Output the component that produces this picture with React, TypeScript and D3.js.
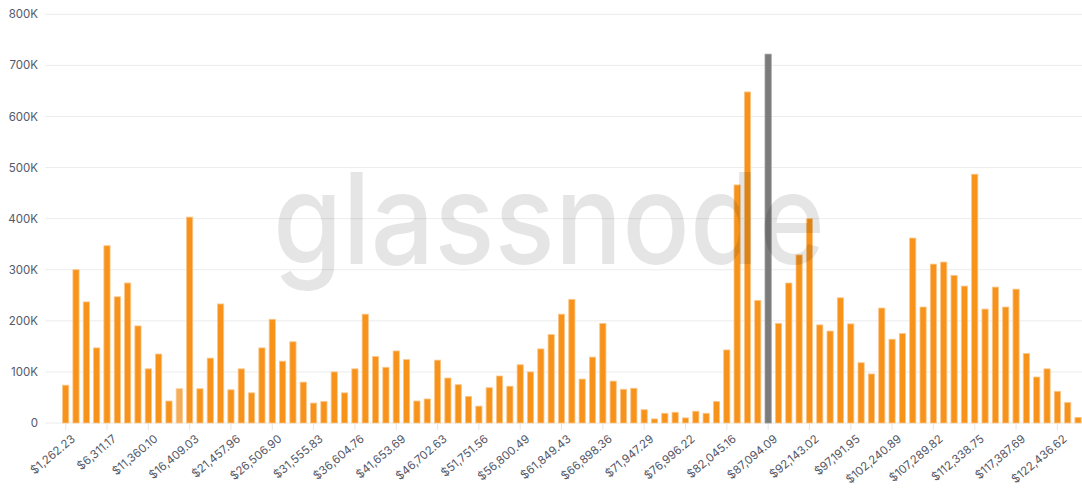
import { useEffect, useRef } from "react";
import * as d3 from "d3";

// supply per price bucket, in thousands
const supplyK = [
  74, 300, 237, 147, 347, 247, 274, 190, 106, 135,
  43, 67, 403, 67, 127, 233, 65, 106, 59, 147,
  203, 121, 159, 80, 39, 42, 100, 59, 106, 213,
  130, 109, 141, 124, 43, 47, 123, 88, 75, 52,
  33, 69, 92, 72, 114, 100, 145, 173, 213, 242,
  86, 129, 195, 82, 66, 68, 26, 8, 19, 21,
  10, 23, 19, 42, 143, 466, 648, 240, 722, 195,
  274, 329, 400, 192, 180, 245, 194, 118, 96, 225,
  164, 175, 362, 227, 311, 315, 289, 268, 487, 223,
  266, 227, 262, 136, 90, 106, 62, 40, 11,
];

// every 4th bucket gets a label
const tickLabels = [
  "$1,262.23", "$6,311.17", "$11,360.10", "$16,409.03", "$21,457.96",
  "$26,506.90", "$31,555.83", "$36,604.76", "$41,653.69", "$46,702.63",
  "$51,751.56", "$56,800.49", "$61,849.43", "$66,898.36", "$71,947.29",
  "$76,996.22", "$82,045.16", "$87,094.09", "$92,143.02", "$97,191.95",
  "$102,240.89", "$107,289.82", "$112,338.75", "$117,387.69", "$122,436.62",
];

const yTicks = [0, 100, 200, 300, 400, 500, 600, 700, 800];
const yTickLabels = ["0", "100K", "200K", "300K", "400K", "500K", "600K", "700K", "800K"];

const currentBucket = 68; // grey bar (current price)
const fadedBucket = 11;

const W = 1082;
const H = 492;

export default function App() {
  const ref = useRef<SVGSVGElement | null>(null);

  useEffect(() => {
    const svg = d3.select(ref.current);
    svg.selectAll("*").remove();

    const idx = supplyK.map((_, i) => i);
    const x = d3.scaleBand<number>()
      .domain(idx)
      .range([60.5, 1083.2])
      .paddingInner(0.4)
      .paddingOuter(0.2);
    const y = d3.scaleLinear().domain([0, 800]).range([423, 14.3]);
    const cx = (i: number) => x(i)! + x.bandwidth() / 2;

    // grid
    svg.append("g")
      .selectAll("line")
      .data(yTicks)
      .join("line")
      .attr("x1", 45)
      .attr("x2", W)
      .attr("y1", d => y(d))
      .attr("y2", d => y(d))
      .attr("stroke", "#ececec")
      .attr("stroke-width", 1);

    svg.append("g")
      .selectAll("text")
      .data(yTicks)
      .join("text")
      .attr("x", 38)
      .attr("y", d => y(d))
      .attr("dy", "0.35em")
      .attr("text-anchor", "end")
      .attr("font-family", "Inter, sans-serif")
      .attr("font-size", 11.5)
      .attr("fill", "#545868")
      .text((d, i) => yTickLabels[i]);

    // x ticks + labels
    const tickIdx = tickLabels.map((_, i) => i * 4);
    const xt = svg.append("g");
    xt.selectAll("line")
      .data(tickIdx)
      .join("line")
      .attr("x1", d => cx(d))
      .attr("x2", d => cx(d))
      .attr("y1", 423)
      .attr("y2", 430)
      .attr("stroke", "#e6e6e6");
    xt.selectAll("g")
      .data(tickIdx)
      .join("g")
      .attr("transform", d => `translate(${cx(d) + 5},434) rotate(-40)`)
      .append("text")
      .attr("text-anchor", "end")
      .attr("dy", "0.7em")
      .attr("font-family", "Inter, sans-serif")
      .attr("font-size", 11.5)
      .attr("fill", "#545868")
      .text((d, i) => tickLabels[i]);

    // bars
    svg.append("g")
      .selectAll("rect")
      .data(supplyK)
      .join("rect")
      .attr("x", (d, i) => x(i)!)
      .attr("width", x.bandwidth())
      .attr("y", d => y(d))
      .attr("height", d => y(0) - y(d))
      .attr("fill", (d, i) => i === currentBucket ? "#7b7b7b" : i === fadedBucket ? "#f5ad5c" : "#f7931a")
      .attr("stroke", (d, i) => i === currentBucket ? "#9a9a9a" : "#fbc68a")
      .attr("stroke-width", 0.8);

    // watermark on top
    svg.append("text")
      .attr("x", 273)
      .attr("y", 264)
      .attr("textLength", 552)
      .attr("lengthAdjust", "spacingAndGlyphs")
      .attr("font-family", "Inter, sans-serif")
      .attr("font-weight", 500)
      .attr("font-size", 126)
      .attr("fill", "#000")
      .attr("fill-opacity", 0.1)
      .text("glassnode");
  }, []);

  return (
    <svg
      ref={ref}
      width={W}
      height={H}
      style={{ position: "absolute", left: 0, top: 0, background: "#fff" }}
    />
  );
}
